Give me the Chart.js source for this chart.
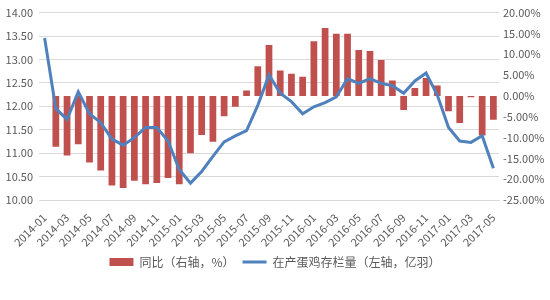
<!DOCTYPE html>
<html>
<head>
<meta charset="utf-8">
<script src="https://cdn.jsdelivr.net/npm/chart.js@4/dist/chart.umd.min.js"></script>
<style>
  html, body { margin: 0; padding: 0; background: #fff; }
  #wrap { width: 550px; height: 300px; }
</style>
</head>
<body>
<div id="wrap"><canvas id="eggChart"></canvas></div>
<script>
// 2014-01 .. 2017-05
const months = [
  "2014-01","2014-02","2014-03","2014-04","2014-05","2014-06","2014-07","2014-08","2014-09","2014-10","2014-11","2014-12",
  "2015-01","2015-02","2015-03","2015-04","2015-05","2015-06","2015-07","2015-08","2015-09","2015-10","2015-11","2015-12",
  "2016-01","2016-02","2016-03","2016-04","2016-05","2016-06","2016-07","2016-08","2016-09","2016-10","2016-11","2016-12",
  "2017-01","2017-02","2017-03","2017-04","2017-05"
];

// 同比 (%), right axis
const yoyPct = [
  null, -12.2, -14.3, -11.6, -16.0, -17.9, -21.5, -22.1, -20.4, -21.2, -20.9, -19.7,
  -21.2, -13.8, -9.4, -11.0, -4.9, -2.6, 1.3, 7.1, 12.2, 6.1, 5.3, 4.6,
  13.1, 16.3, 14.9, 14.9, 11.0, 10.8, 8.6, 3.7, -3.4, 1.9, 4.3, 2.5,
  -3.7, -6.5, -0.3, -9.5, -5.7
];

// 在产蛋鸡存栏量 (亿羽), left axis
const layingHens = [
  13.46, 11.95, 11.72, 12.31, 11.84, 11.65, 11.30, 11.17, 11.33, 11.55, 11.55, 11.26,
  10.65, 10.36, 10.61, 10.93, 11.24, 11.37, 11.48, 12.02, 12.67, 12.28, 12.10, 11.84,
  11.99, 12.08, 12.20, 12.59, 12.49, 12.59, 12.49, 12.44, 12.28, 12.54, 12.71, 12.24,
  11.55, 11.26, 11.23, 11.37, 10.68
];

const tickColor = "#595959";
const gridColor = "#d9d9d9";
const fontFamily = "'Noto Sans CJK SC', 'Noto Sans', sans-serif";

const ctx = document.getElementById("eggChart").getContext("2d");

new Chart(ctx, {
  data: {
    labels: months,
    datasets: [
      {
        type: "bar",
        label: "同比（右轴，%）",
        data: yoyPct,
        yAxisID: "yRight",
        backgroundColor: "#C0504D",
        barPercentage: 0.6,
        categoryPercentage: 1.0,
        pointStyle: "rect",
        order: 2
      },
      {
        type: "line",
        label: "在产蛋鸡存栏量（左轴，亿羽）",
        data: layingHens,
        yAxisID: "yLeft",
        borderColor: "#4F81BD",
        backgroundColor: "#4F81BD",
        borderWidth: 3,
        pointRadius: 0,
        tension: 0,
        pointStyle: "line",
        order: 1
      }
    ]
  },
  options: {
    responsive: true,
    maintainAspectRatio: false,
    animation: false,
    layout: {
      padding: { top: 11, bottom: 22, left: 0, right: 0 }
    },
    plugins: {
      tooltip: { enabled: false },
      legend: {
        position: "bottom",
        labels: {
          usePointStyle: true,
          pointStyleWidth: 24,
          boxHeight: 8,
          padding: 8,
          color: tickColor,
          font: { family: fontFamily, size: 12 },
          sort: (a, b) => a.datasetIndex - b.datasetIndex
        }
      }
    },
    scales: {
      x: {
        offset: true,
        grid: { display: false },
        border: { color: gridColor },
        ticks: {
          autoSkip: false,
          maxRotation: 45,
          minRotation: 45,
          color: tickColor,
          font: { family: fontFamily, size: 11 },
          callback: function (val, idx) {
            return idx % 2 === 0 ? this.getLabelForValue(val) : "";
          }
        },
        afterFit: function (axis) { axis.height = 48; }
      },
      yLeft: {
        position: "left",
        min: 10,
        max: 14,
        border: { display: false },
        grid: { color: gridColor, drawTicks: false },
        ticks: {
          stepSize: 0.5,
          padding: 6,
          color: tickColor,
          font: { family: fontFamily, size: 11 },
          callback: v => v.toFixed(2)
        },
        afterFit: function (axis) { axis.width = 39; }
      },
      yRight: {
        position: "right",
        min: -25,
        max: 20,
        border: { display: false },
        grid: { display: false, drawTicks: false },
        ticks: {
          stepSize: 5,
          padding: 4,
          color: tickColor,
          font: { family: fontFamily, size: 11 },
          callback: v => v.toFixed(2) + "%"
        },
        afterFit: function (axis) { axis.width = 51; }
      }
    }
  }
});
</script>
</body>
</html>
